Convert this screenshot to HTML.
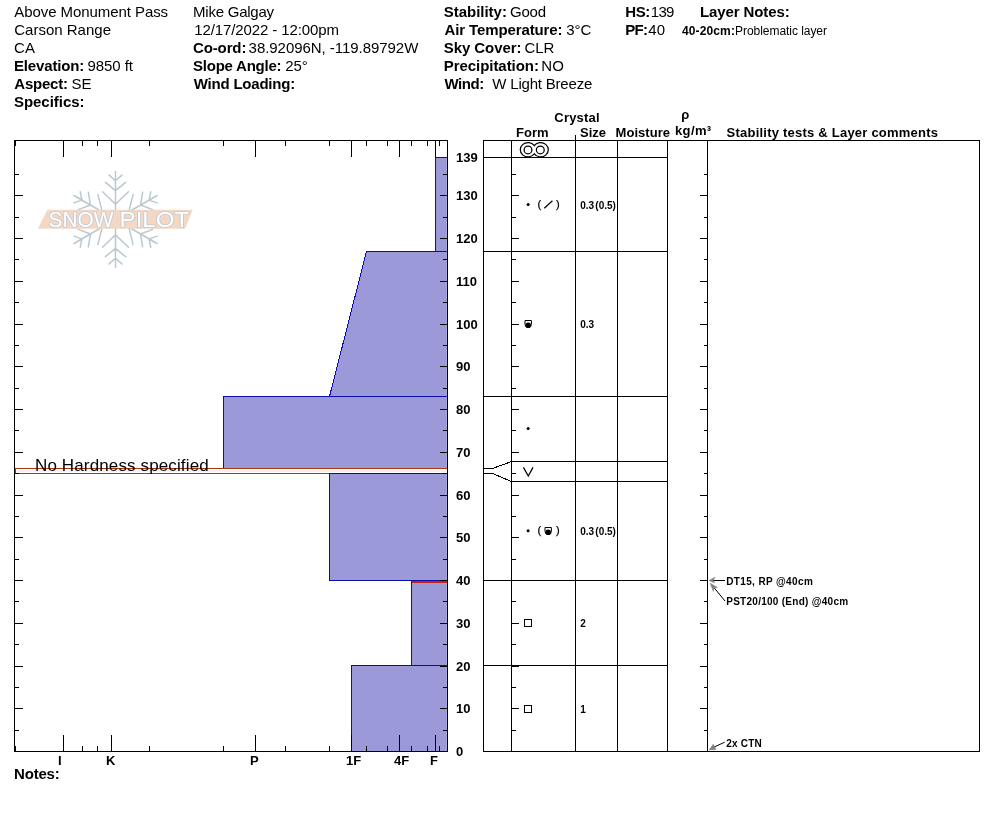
<!DOCTYPE html>
<html><head><meta charset="utf-8"><title>SnowPilot Profile</title>
<style>
html,body{margin:0;padding:0;background:#fff;}
svg{display:block;}
text{font-family:"Liberation Sans",sans-serif;fill:#000;white-space:pre;}
.b{font-weight:bold;}
.h{font-size:15px;}
.c{shape-rendering:crispEdges;}
text.lg{font-size:22px;fill:#fff;stroke:#c2c9d1;stroke-width:1.7px;paint-order:stroke;stroke-linejoin:round;}
</style></head><body>
<svg width="994" height="840" viewBox="0 0 994 840">
<rect width="994" height="840" fill="#fff"/>
<text x="14.3" y="17" style="font-size:15px;" textLength="153.8" lengthAdjust="spacing">Above Monument Pass</text>
<text x="14.2" y="35" style="font-size:15px;" textLength="96.8" lengthAdjust="spacing">Carson Range</text>
<text x="14.1" y="53" style="font-size:15px;">CA</text>
<text x="13.9" y="71" style="font-size:15px;font-weight:bold;" textLength="70.4" lengthAdjust="spacing">Elevation:</text>
<text x="87.6" y="71" style="font-size:15px;" textLength="45.3" lengthAdjust="spacing">9850 ft</text>
<text x="14.3" y="89" style="font-size:15px;font-weight:bold;" textLength="53.6" lengthAdjust="spacing">Aspect:</text>
<text x="71.6" y="89" style="font-size:15px;">SE</text>
<text x="13.9" y="107" style="font-size:15px;font-weight:bold;" textLength="70.7" lengthAdjust="spacing">Specifics:</text>
<text x="193.0" y="17" style="font-size:15px;" textLength="81.1" lengthAdjust="spacing">Mike Galgay</text>
<text x="194.2" y="35" style="font-size:15px;" textLength="144.8" lengthAdjust="spacing">12/17/2022 - 12:00pm</text>
<text x="193.0" y="53" style="font-size:15px;font-weight:bold;" textLength="53.4" lengthAdjust="spacing">Co-ord:</text>
<text x="248.6" y="53" style="font-size:15px;" textLength="169.7" lengthAdjust="spacing">38.92096N, -119.89792W</text>
<text x="193.0" y="71" style="font-size:15px;font-weight:bold;" textLength="88.6" lengthAdjust="spacing">Slope Angle:</text>
<text x="285.2" y="71" style="font-size:15px;">25°</text>
<text x="193.8" y="89" style="font-size:15px;font-weight:bold;" textLength="101.4" lengthAdjust="spacing">Wind Loading:</text>
<text x="443.8" y="17" style="font-size:15px;font-weight:bold;" textLength="63.1" lengthAdjust="spacing">Stability:</text>
<text x="509.9" y="17" style="font-size:15px;" textLength="36.2" lengthAdjust="spacing">Good</text>
<text x="444.5" y="35" style="font-size:15px;font-weight:bold;" textLength="118.0" lengthAdjust="spacing">Air Temperature:</text>
<text x="566.2" y="35" style="font-size:15px;">3°C</text>
<text x="443.8" y="53" style="font-size:15px;font-weight:bold;" textLength="77.7" lengthAdjust="spacing">Sky Cover:</text>
<text x="524.4" y="53" style="font-size:15px;" textLength="30.0" lengthAdjust="spacing">CLR</text>
<text x="443.8" y="71" style="font-size:15px;font-weight:bold;" textLength="95.1" lengthAdjust="spacing">Precipitation:</text>
<text x="541.3" y="71" style="font-size:15px;">NO</text>
<text x="444.5" y="89" style="font-size:15px;font-weight:bold;" textLength="39.7" lengthAdjust="spacing">Wind:</text>
<text x="492.3" y="89" style="font-size:15px;" textLength="100.0" lengthAdjust="spacing">W Light Breeze</text>
<text x="625.3" y="17" style="font-size:15px;font-weight:bold;" textLength="25.0" lengthAdjust="spacing">HS:</text>
<text x="650.7" y="17" style="font-size:15px;" textLength="23.7" lengthAdjust="spacing">139</text>
<text x="625.3" y="35" style="font-size:15px;font-weight:bold;" textLength="22.8" lengthAdjust="spacing">PF:</text>
<text x="648.3" y="35" style="font-size:15px;">40</text>
<text x="700.0" y="17" style="font-size:15px;font-weight:bold;" textLength="89.7" lengthAdjust="spacing">Layer Notes:</text>
<text x="682.0" y="35" style="font-size:12px;font-weight:bold;" textLength="52.9" lengthAdjust="spacing">40-20cm:</text>
<text x="735.0" y="35" style="font-size:12px;" textLength="92.0" lengthAdjust="spacing">Problematic layer</text>
<text x="14.1" y="779" style="font-size:15px;font-weight:bold;" textLength="45.6" lengthAdjust="spacing">Notes:</text>
<text x="554.3" y="122" style="font-size:13px;font-weight:bold;" textLength="45.3" lengthAdjust="spacing">Crystal</text>
<text x="516.0" y="137" style="font-size:13px;font-weight:bold;" textLength="32.5" lengthAdjust="spacing">Form</text>
<text x="580.0" y="137" style="font-size:13px;font-weight:bold;" textLength="26.0" lengthAdjust="spacing">Size</text>
<text x="615.6" y="137" style="font-size:13px;font-weight:bold;" textLength="54.4" lengthAdjust="spacing">Moisture</text>
<text x="681.3" y="119" style="font-size:13px;font-weight:bold;">ρ</text>
<text x="675.0" y="135" style="font-size:13px;font-weight:bold;" textLength="36.2" lengthAdjust="spacing">kg/m³</text>
<text x="726.6" y="137" style="font-size:13px;font-weight:bold;" textLength="211.4" lengthAdjust="spacing">Stability tests &amp; Layer comments</text>
<g class="c">
<polygon points="435.5,157.5 447.5,157.5 447.5,251.5 435.5,251.5" fill="#9b99d8" stroke="#0c0ca8" stroke-width="1"/>
<polygon points="366.5,251.5 447.5,251.5 447.5,396.5 329.5,396.5" fill="#9b99d8" stroke="#0c0ca8" stroke-width="1"/>
<polygon points="223.5,396.5 447.5,396.5 447.5,468.5 223.5,468.5" fill="#9b99d8" stroke="#0c0ca8" stroke-width="1"/>
<rect x="15.5" y="468.5" width="432" height="5" fill="#fff" stroke="#a23a12" stroke-width="1"/>
<rect x="17" y="470" width="429" height="2" fill="#ffeded"/>
<polygon points="329.5,473.5 447.5,473.5 447.5,580.5 329.5,580.5" fill="#9b99d8" stroke="#0c0ca8" stroke-width="1"/>
<polygon points="411.5,580.5 447.5,580.5 447.5,665.5 411.5,665.5" fill="#9b99d8" stroke="#0c0ca8" stroke-width="1"/>
<polygon points="351.5,665.5 447.5,665.5 447.5,751.5 351.5,751.5" fill="#9b99d8" stroke="#0c0ca8" stroke-width="1"/>
<rect x="412" y="581" width="35" height="2" fill="#c4201c"/>
<rect x="446" y="158" width="1" height="310" fill="#fff" fill-opacity="0.13"/><rect x="446" y="474" width="1" height="277" fill="#fff" fill-opacity="0.13"/>
</g>
<path class="c" d="M14,140.5H448M14,751.5H448M14.5,140V752M447.5,140V752M63.5,141V157M63.5,735V751M111.5,141V157M111.5,735V751M255.5,141V157M255.5,735V751M351.5,141V157M351.5,735V751M399.5,141V157M399.5,735V751M435.5,141V157M435.5,735V751M82.5,141V146M82.5,746V751M97.5,141V146M97.5,746V751M149.5,141V146M149.5,746V751M223.5,141V146M223.5,746V751M285.5,141V146M285.5,746V751M329.5,141V146M329.5,746V751M366.5,141V146M366.5,746V751M387.5,141V146M387.5,746V751M411.5,141V146M411.5,746V751M427.5,141V146M427.5,746V751M439.5,141V146M439.5,746V751M15.5,141V146M15.5,746V751M15,730.5H19M443,730.5H447M15,708.5H23M440,708.5H447M15,687.5H19M443,687.5H447M15,666.5H23M440,666.5H447M15,644.5H19M443,644.5H447M15,623.5H23M440,623.5H447M15,601.5H19M443,601.5H447M15,580.5H23M440,580.5H447M15,559.5H19M443,559.5H447M15,537.5H23M440,537.5H447M15,516.5H19M443,516.5H447M15,495.5H23M440,495.5H447M15,473.5H19M443,473.5H447M15,452.5H23M440,452.5H447M15,430.5H19M443,430.5H447M15,409.5H23M440,409.5H447M15,388.5H19M443,388.5H447M15,366.5H23M440,366.5H447M15,345.5H19M443,345.5H447M15,324.5H23M440,324.5H447M15,302.5H19M443,302.5H447M15,281.5H23M440,281.5H447M15,259.5H19M443,259.5H447M15,238.5H23M440,238.5H447M15,217.5H19M443,217.5H447M15,195.5H23M440,195.5H447M15,174.5H19M443,174.5H447M483,140.5H980M483,751.5H980M483.5,140V752M979.5,140V752M511.5,140V752M575.5,135V752M617.5,140V752M667.5,140V752M707.5,140V752M483,157.5H668M483,251.5H668M483,396.5H668M483,580.5H668M483,665.5H668M511,461.5H668M511,481.5H668M483,468.5H493M483,473.5H493M512,730.5H516M704,730.5H707M512,708.5H519M700,708.5H707M512,687.5H516M704,687.5H707M512,666.5H519M700,666.5H707M512,644.5H516M704,644.5H707M512,623.5H519M700,623.5H707M512,601.5H516M704,601.5H707M512,580.5H519M700,580.5H707M512,559.5H516M704,559.5H707M512,537.5H519M700,537.5H707M512,516.5H516M704,516.5H707M512,495.5H519M700,495.5H707M512,473.5H516M704,473.5H707M512,452.5H519M700,452.5H707M512,430.5H516M704,430.5H707M512,409.5H519M700,409.5H707M512,388.5H516M704,388.5H707M512,366.5H519M700,366.5H707M512,345.5H516M704,345.5H707M512,324.5H519M700,324.5H707M512,302.5H516M704,302.5H707M512,281.5H519M700,281.5H707M512,259.5H516M704,259.5H707M512,238.5H519M700,238.5H707M512,217.5H516M704,217.5H707M512,195.5H519M700,195.5H707M512,174.5H516M704,174.5H707" stroke="#000" stroke-width="1" fill="none"/>
<path class="c" d="M492.5,468.5L511.5,461.5M492.5,473.5L511.5,481.5" stroke="#000" stroke-width="1" fill="none"/>
<g class="b" style="font-size:13px">
<text x="456" y="162" class="b">139</text>
<text x="456" y="200" class="b">130</text>
<text x="456" y="243" class="b">120</text>
<text x="456" y="286" class="b">110</text>
<text x="456" y="329" class="b">100</text>
<text x="456" y="371" class="b">90</text>
<text x="456" y="414" class="b">80</text>
<text x="456" y="457" class="b">70</text>
<text x="456" y="500" class="b">60</text>
<text x="456" y="542" class="b">50</text>
<text x="456" y="585" class="b">40</text>
<text x="456" y="628" class="b">30</text>
<text x="456" y="671" class="b">20</text>
<text x="456" y="713" class="b">10</text>
<text x="456" y="756" class="b">0</text>
</g>
<g class="b" style="font-size:13px">
<text x="58" y="765" class="b">I</text>
<text x="106" y="765" class="b">K</text>
<text x="250" y="765" class="b">P</text>
<text x="346" y="765" class="b">1F</text>
<text x="394" y="765" class="b">4F</text>
<text x="430" y="765" class="b">F</text>
</g>
<text x="35.0" y="471" style="font-size:17px;" textLength="173.7" lengthAdjust="spacing">No Hardness specified</text>
<g id="logo">
<g transform="translate(115.5,219.5)" stroke="#bac8d1" stroke-width="1.5" stroke-linecap="round" fill="none">
<path transform="rotate(0)" d="M0,0V-48M0,-38.8L-6.4,-44.4M0,-38.8L6.4,-44.4M0,-28.9L-10.1,-37.2M0,-28.9L10.1,-37.2M0,-15.3L-12.9,-27.8M0,-15.3L12.9,-27.8"/>
<path transform="rotate(60)" d="M0,0V-48M0,-38.8L-6.4,-44.4M0,-38.8L6.4,-44.4M0,-28.9L-10.1,-37.2M0,-28.9L10.1,-37.2M0,-15.3L-12.9,-27.8M0,-15.3L12.9,-27.8"/>
<path transform="rotate(120)" d="M0,0V-48M0,-38.8L-6.4,-44.4M0,-38.8L6.4,-44.4M0,-28.9L-10.1,-37.2M0,-28.9L10.1,-37.2M0,-15.3L-12.9,-27.8M0,-15.3L12.9,-27.8"/>
<path transform="rotate(180)" d="M0,0V-48M0,-38.8L-6.4,-44.4M0,-38.8L6.4,-44.4M0,-28.9L-10.1,-37.2M0,-28.9L10.1,-37.2M0,-15.3L-12.9,-27.8M0,-15.3L12.9,-27.8"/>
<path transform="rotate(240)" d="M0,0V-48M0,-38.8L-6.4,-44.4M0,-38.8L6.4,-44.4M0,-28.9L-10.1,-37.2M0,-28.9L10.1,-37.2M0,-15.3L-12.9,-27.8M0,-15.3L12.9,-27.8"/>
<path transform="rotate(300)" d="M0,0V-48M0,-38.8L-6.4,-44.4M0,-38.8L6.4,-44.4M0,-28.9L-10.1,-37.2M0,-28.9L10.1,-37.2M0,-15.3L-12.9,-27.8M0,-15.3L12.9,-27.8"/>
</g>
<polygon points="47.3,209.7 192.8,209.7 185,228.7 37.8,228.7" fill="#f3d9c5"/>
<text class="lg" x="48.6" y="227.2" textLength="64.8" lengthAdjust="spacingAndGlyphs">SNOW</text>
<text class="lg" x="119.6" y="227.2" textLength="69.6" lengthAdjust="spacingAndGlyphs">PILOT</text>
</g>
<g fill="none" stroke="#000" stroke-width="1.25">
<path d="M534.3,145.6A7.7,7.2 0 1 0 534.3,153.9A7.7,7.2 0 1 0 534.3,145.6Z"/>
<circle cx="528" cy="149.9" r="3.9"/><circle cx="540.3" cy="149.9" r="3.9"/>
<path d="M544.3,208.3L552.4,200.7"/>
<path d="M523.4,467.4L528.3,476L533,467.4"/>
<rect class="c" x="524.5" y="619.5" width="7" height="7"/><rect class="c" x="524.5" y="705.5" width="7" height="7"/>
</g>
<path d="M525.0,320.5H531.4000000000001V324.3A3.2,3.2 0 0 1 525.0,324.3Z" fill="none" stroke="#000" stroke-width="1"/><circle cx="528.2" cy="325.2" r="2.8" fill="#000"/>
<path d="M545.0,527.5H551.4000000000001V531.3A3.2,3.2 0 0 1 545.0,531.3Z" fill="none" stroke="#000" stroke-width="1"/><circle cx="548.2" cy="532.2" r="2.8" fill="#000"/>
<circle cx="528.1" cy="204.5" r="1.5" fill="#000"/>
<circle cx="528.1" cy="428.4" r="1.5" fill="#000"/>
<circle cx="528.1" cy="530.7" r="1.5" fill="#000"/>
<g style="font-size:11px;stroke:#000;stroke-width:0.25px">
<text x="537.5" y="208.3" class="">(</text>
<text x="556" y="208.3" class="">)</text>
<text x="537.5" y="533.6" class="">(</text>
<text x="556" y="533.6" class="">)</text>
</g>
<g class="b" style="font-size:10px">
<text x="580.2" y="209">0.3<tspan dx="1.2">(0.5)</tspan></text>
<text x="580.2" y="328" class="b">0.3</text>
<text x="580.2" y="535">0.3<tspan dx="1.2">(0.5)</tspan></text>
<text x="580.2" y="627" class="b">2</text>
<text x="580.2" y="713" class="b">1</text>
<text x="726.2" y="585" style="font-size:10px;font-weight:bold;" textLength="86.6" lengthAdjust="spacing">DT15, RP @40cm</text>
<text x="726.2" y="605" style="font-size:10px;font-weight:bold;" textLength="122.0" lengthAdjust="spacing">PST20/100 (End) @40cm</text>
<text x="726.2" y="747" style="font-size:10px;font-weight:bold;" textLength="35.5" lengthAdjust="spacing">2x CTN</text>
</g>
<g stroke="#000" stroke-width="1" fill="none">
<path d="M713,580.5H725"/>
<path d="M714.3,588L725,601"/>
<path d="M713.5,747.3L724.7,742.2"/>
</g>
<g fill="#7f7f7f" stroke="#7f7f7f" stroke-width="0.5" stroke-linejoin="round">
<path d="M709,580.4L715,577.2L713.2,580.4L714.7,583Z"/>
<path d="M710.2,583.2L717.4,587.4L713.9,587.8L713.3,591.4Z"/>
<path d="M709.2,749.9L713.2,744.2L715.9,749.5Z"/>
</g>
</svg></body></html>
